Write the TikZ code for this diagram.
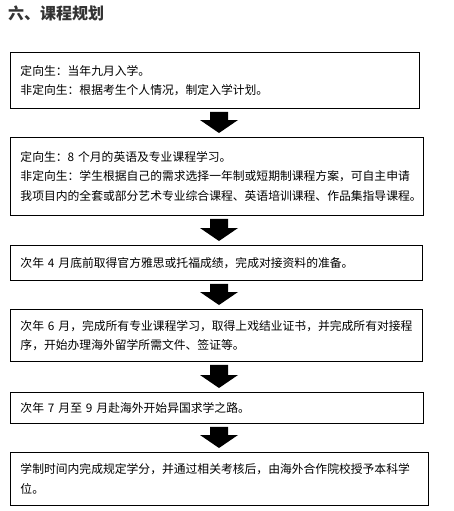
\documentclass[tikz,border=0pt]{standalone}
\usepackage{fontspec}
\setmainfont{Noto Sans CJK SC}
\usetikzlibrary{calc}
\hfuzz=20pt
\newcommand\blockdown[2]{%
  \fill[blk] let \p1=($(#1.south)+(0,3)$), \p2=($(#2.north)+(0,-4)$) in
    (210pt,\y1) -- (228pt,\y1) -- (228pt,\y2+13pt) -- (238pt,\y2+13pt) --
    (219pt,\y2) -- (200pt,\y2+13pt) -- (210pt,\y2+13pt) -- cycle;}
\begin{document}
\begin{tikzpicture}[x=1pt,y=-1pt,
  box/.style={draw=black,line width=0.9pt,anchor=north west,inner xsep=10.5pt,inner ysep=0pt,
    align=left,font=\fontsize{11.8}{19.5}\selectfont},
  blk/.style={fill=black}]
\useasboundingbox[fill=white] (0,0) rectangle (454,511);
\node[anchor=west,font=\fontsize{16}{16}\selectfont\bfseries,text=black!80,inner sep=0pt] (title) at (8,13) {六、课程规划};
\node[box,minimum width=409.5pt,minimum height=56pt,text width=388.5pt] (b1) at (9.5,52)
  {定向生：当年九月入学。\\非定向生：根据考生个人情况，制定入学计划。};
\node[box,minimum width=413.5pt,minimum height=78pt,text width=392.5pt] (b2) at (9.5,137)
  {定向生：8 个月的英语及专业课程学习。\\非定向生：学生根据自己的需求选择一年制或短期制课程方案，可自主申请\\我项目内的全套或部分艺术专业综合课程、英语培训课程、作品集指导课程。};
\node[box,minimum width=412pt,minimum height=35pt,text width=391pt] (b3) at (9.5,245)
  {次年 4 月底前取得官方雅思或托福成绩，完成对接资料的准备。};
\node[box,minimum width=412pt,minimum height=52pt,text width=391pt] (b4) at (9.5,309)
  {次年 6 月，完成所有专业课程学习，取得上戏结业证书，并完成所有对接程\\序，开始办理海外留学所需文件、签证等。};
\node[box,minimum width=413pt,minimum height=31pt,text width=392pt] (b5) at (9.5,392)
  {次年 7 月至 9 月赴海外开始异国求学之路。};
\node[box,minimum width=418.5pt,minimum height=53pt,text width=397.5pt] (b6) at (9.5,452)
  {学制时间内完成规定学分，并通过相关考核后，由海外合作院校授予本科学\\位。};
\blockdown{b1}{b2}
\blockdown{b2}{b3}
\blockdown{b3}{b4}
\blockdown{b4}{b5}
\blockdown{b5}{b6}
\end{tikzpicture}
\end{document}
